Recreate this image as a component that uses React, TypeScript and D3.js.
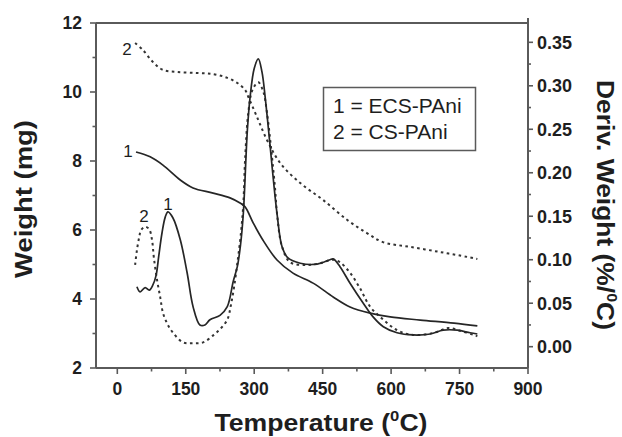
import React from "react";
import * as d3 from "d3";

// ---- Data ----
const xTicks = [0, 150, 300, 450, 600, 750, 900];
const xMinor = [75, 225, 375, 525, 675, 825];
const yLeftTicks = [2, 4, 6, 8, 10, 12];
const yLeftMinor = [3, 5, 7, 9, 11];
const yRightTicks = [0, 0.05, 0.1, 0.15, 0.2, 0.25, 0.3, 0.35];
const yRightMinor = [0.025, 0.075, 0.125, 0.175, 0.225, 0.275, 0.325];

// TGA curve 1 (ECS-PAni, solid), weight in mg
const tga1T = [41, 72, 100, 138, 166, 210, 247, 269, 280, 298, 319, 350, 385, 429, 473, 510, 554, 598, 664, 738, 789];
const tga1W = [8.26, 8.12, 7.88, 7.45, 7.22, 7.07, 6.93, 6.78, 6.67, 6.2, 5.71, 5.13, 4.75, 4.46, 4.06, 3.77, 3.59, 3.48, 3.39, 3.3, 3.22];

// TGA curve 2 (CS-PAni, dotted)
const tga2T = [39, 56, 78, 100, 131, 175, 210, 241, 263, 280, 287, 306, 328, 357, 401, 451, 504, 547, 582, 642, 708, 767, 789];
const tga2W = [11.42, 11.22, 10.87, 10.64, 10.58, 10.55, 10.52, 10.41, 10.26, 10.06, 9.86, 9.28, 8.61, 7.94, 7.36, 6.87, 6.29, 5.91, 5.65, 5.51, 5.36, 5.22, 5.16];

// DTG curve 1 (solid), %/C
const dtg1T = [43, 50, 61, 70, 78, 85, 91, 98, 105, 111, 122, 138, 153, 166, 181, 192, 203, 225, 241, 254, 263, 270, 276, 285, 291, 300, 309, 317, 324, 335, 342, 350, 361, 374, 401, 438, 466, 473, 488, 510, 539, 561, 583, 613, 648, 686, 714, 745, 773, 789];
const dtg1D = [0.069, 0.063, 0.068, 0.065, 0.071, 0.082, 0.105, 0.131, 0.149, 0.155, 0.148, 0.123, 0.085, 0.046, 0.025, 0.025, 0.031, 0.036, 0.046, 0.075, 0.092, 0.117, 0.152, 0.249, 0.287, 0.32, 0.331, 0.316, 0.287, 0.23, 0.192, 0.153, 0.115, 0.102, 0.096, 0.095, 0.1, 0.101, 0.092, 0.073, 0.05, 0.034, 0.023, 0.016, 0.0135, 0.0146, 0.019, 0.019, 0.016, 0.0146];

// DTG curve 2 (dotted)
const dtg2T = [39, 43, 48, 52, 61, 70, 76, 80, 87, 94, 100, 109, 122, 144, 166, 188, 210, 225, 241, 249, 256, 263, 270, 276, 280, 287, 296, 309, 320, 328, 339, 346, 350, 361, 379, 416, 445, 473, 488, 510, 532, 554, 583, 613, 648, 694, 725, 753, 781, 789];
const dtg2D = [0.094, 0.111, 0.126, 0.134, 0.138, 0.135, 0.123, 0.103, 0.077, 0.057, 0.039, 0.027, 0.016, 0.005, 0.004, 0.005, 0.013, 0.02, 0.031, 0.048, 0.069, 0.096, 0.126, 0.163, 0.215, 0.269, 0.295, 0.304, 0.293, 0.269, 0.218, 0.18, 0.153, 0.115, 0.097, 0.094, 0.096, 0.1, 0.097, 0.085, 0.067, 0.046, 0.031, 0.019, 0.0135, 0.016, 0.0215, 0.018, 0.0135, 0.012];

const legendLines = ["1 = ECS-PAni", "2 = CS-PAni"];

// ---- Layout ----
const W = 622;
const H = 437;
const L = 96, R = 528, T = 23, B = 368;
const FONT = "'Liberation Sans', Arial, sans-serif";
const AX = "#5a5a5a";
const INK = "#1e1e1e";

export default function App() {
  const x = d3.scaleLinear().domain([-46.7, 900]).range([L, R]);
  const yL = d3.scaleLinear().domain([2, 12]).range([B, T]);
  const yR = d3.scaleLinear().domain([-0.0245, 0.3722]).range([B, T]);

  const lineL = d3
    .line<[number, number]>()
    .x((d) => x(d[0]))
    .y((d) => yL(d[1]))
    .curve(d3.curveCatmullRom.alpha(0.5));
  const lineR = d3
    .line<[number, number]>()
    .x((d) => x(d[0]))
    .y((d) => yR(d[1]))
    .curve(d3.curveCatmullRom.alpha(0.5));

  const zip = (a: number[], b: number[]) => a.map((v, i) => [v, b[i]] as [number, number]);

  const fmtR = d3.format(".2f");

  return (
    <svg
      width={W}
      height={H}
      viewBox={`0 0 ${W} ${H}`}
      style={{ position: "absolute", left: 0, top: 0, background: "#fff" }}
      fontFamily={FONT}
    >
      <rect x={0} y={0} width={W} height={H} fill="#fff" />

      {/* curves */}
      <path d={lineL(zip(tga2T, tga2W)) || ""} fill="none" stroke="#333" strokeWidth={2} strokeDasharray="2.6,3.4" />
      <path d={lineR(zip(dtg2T, dtg2D)) || ""} fill="none" stroke="#333" strokeWidth={2} strokeDasharray="2.6,3.4" />
      <path d={lineL(zip(tga1T, tga1W)) || ""} fill="none" stroke="#262626" strokeWidth={1.7} />
      <path d={lineR(zip(dtg1T, dtg1D)) || ""} fill="none" stroke="#262626" strokeWidth={1.7} />

      {/* curve labels */}
      <g fill={INK} fontSize={17} textAnchor="middle">
        <text x={127} y={55}>2</text>
        <text x={128} y={157}>1</text>
        <text x={144} y={222}>2</text>
        <text x={168} y={210}>1</text>
      </g>

      {/* frame */}
      <g stroke={AX} strokeWidth={2} fill="none">
        <line x1={L} y1={T} x2={R} y2={T} />
        <line x1={L} y1={B} x2={R} y2={B} />
        <line x1={L} y1={T} x2={L} y2={B} />
        <line x1={R} y1={T - 5} x2={R} y2={B} />
      </g>

      {/* bottom axis */}
      <g stroke={AX} strokeWidth={1.6}>
        {xTicks.map((t) => (
          <line key={"xt" + t} x1={x(t)} x2={x(t)} y1={B} y2={B + 6} />
        ))}
        {xMinor.map((t) => (
          <line key={"xm" + t} x1={x(t)} x2={x(t)} y1={B} y2={B + 3.5} />
        ))}
      </g>
      <g fill={INK} fontSize={17.5} fontWeight="bold" textAnchor="middle">
        {xTicks.map((t) => (
          <text key={"xl" + t} x={x(t)} y={395}>
            {t}
          </text>
        ))}
      </g>

      {/* left axis */}
      <g stroke={AX} strokeWidth={1.6}>
        {yLeftTicks.map((t) => (
          <line key={"lt" + t} x1={L - 6} x2={L} y1={yL(t)} y2={yL(t)} />
        ))}
        {yLeftMinor.map((t) => (
          <line key={"lm" + t} x1={L - 3.5} x2={L} y1={yL(t)} y2={yL(t)} />
        ))}
      </g>
      <g fill={INK} fontSize={17.5} fontWeight="bold" textAnchor="end">
        {yLeftTicks.map((t) => (
          <text key={"ll" + t} x={82} y={yL(t)} dy="0.36em">
            {t}
          </text>
        ))}
      </g>

      {/* right axis */}
      <g stroke={AX} strokeWidth={1.6}>
        {yRightTicks.map((t) => (
          <line key={"rt" + t} x1={R} x2={R + 5} y1={yR(t)} y2={yR(t)} />
        ))}
        {yRightMinor.map((t) => (
          <line key={"rm" + t} x1={R} x2={R + 3} y1={yR(t)} y2={yR(t)} />
        ))}
      </g>
      <g fill={INK} fontSize={18} fontWeight="bold" textAnchor="start">
        {yRightTicks.map((t) => (
          <text key={"rl" + t} x={537} y={yR(t)} dy="0.36em">
            {fmtR(t)}
          </text>
        ))}
      </g>

      {/* axis titles */}
      <text
        x={321}
        y={431}
        fill={INK}
        fontSize={24}
        fontWeight="bold"
        textAnchor="middle"
        textLength={213}
        lengthAdjust="spacingAndGlyphs"
      >
        Temperature (<tspan fontSize={15} dy={-10}>0</tspan>
        <tspan dy={10}>C)</tspan>
      </text>
      <text
        transform={`translate(32,199) rotate(-90)`}
        fill={INK}
        fontSize={24}
        fontWeight="bold"
        textAnchor="middle"
        textLength={158}
        lengthAdjust="spacingAndGlyphs"
      >
        Weight (mg)
      </text>
      <text
        transform={`translate(597,205) rotate(90)`}
        fill={INK}
        fontSize={23}
        fontWeight="bold"
        textAnchor="middle"
        textLength={250}
        lengthAdjust="spacingAndGlyphs"
      >
        Deriv. Weight (%/<tspan fontSize={14} dy={-10}>0</tspan>
        <tspan dy={10}>C)</tspan>
      </text>

      {/* legend */}
      <rect x={323.5} y={87.5} width={152} height={63} fill="#fff" stroke={AX} strokeWidth={1.5} />
      <g fill={INK} fontSize={21}>
        {legendLines.map((s, i) => (
          <text key={s} x={333} y={113 + i * 26}>
            {s}
          </text>
        ))}
      </g>
    </svg>
  );
}
